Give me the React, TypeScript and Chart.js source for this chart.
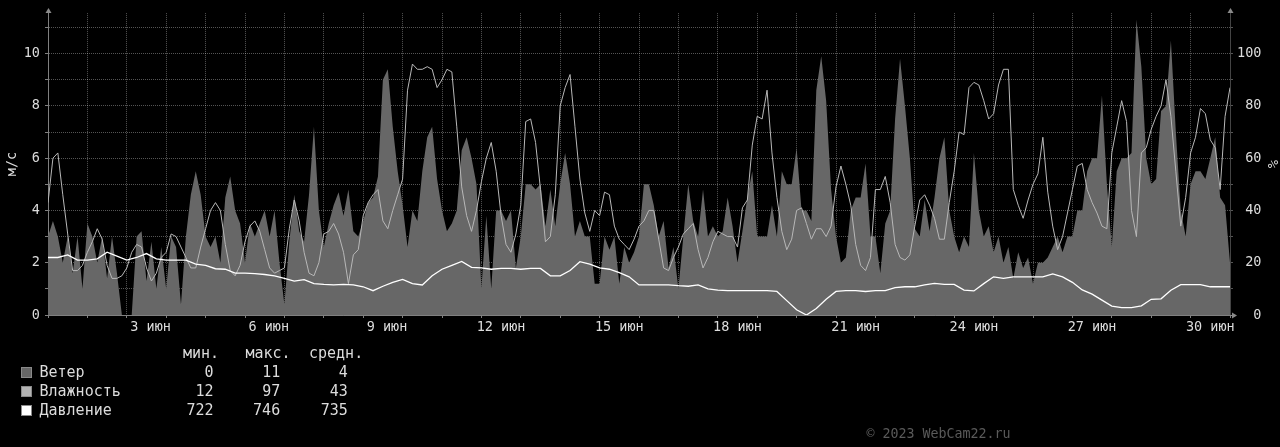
import React, { useEffect, useRef } from "react";
import { Chart, registerables } from "chart.js";

Chart.register(...registerables);

// ---------------- data ----------------
const MONTH = "июн";
const DAY_COUNT = 30;
const LABEL_DAYS = [3, 6, 9, 12, 15, 18, 21, 24, 27, 30];
const LEFT_LABELS = [0, 2, 4, 6, 8, 10];
const RIGHT_LABELS = [0, 20, 40, 60, 80, 100];

const WIND_STEP_HOURS = 3;
const HUMIDITY_STEP_HOURS = 3;
const PRESSURE_STEP_HOURS = 6;
const PRESSURE_BASE = 722; // мм рт. ст. shown as (p - base) / 10 on the left scale
const PRESSURE_DIV = 10;

// wind, m/s, every 3 hours from 1 June 00:00
const windValues = [
  3.0, 3.6, 3.0, 2.0, 3.0, 1.6, 3.0, 1.0,
  3.5, 3.0, 2.0, 3.0, 1.4, 3.0, 1.6, 0,
  0, 0, 3.0, 3.2, 1.3, 2.8, 1.0, 2.6,
  1.0, 3.0, 2.6, 0.4, 3.0, 4.6, 5.5, 4.6,
  3.0, 2.6, 3.0, 2.0, 4.5, 5.3, 4.0, 3.5,
  2.0, 3.5, 3.0, 3.5, 4.0, 3.0, 4.0, 2.0,
  0.4, 2.8, 4.6, 3.2, 2.8, 4.6, 7.2, 4.0,
  2.6, 3.5, 4.2, 4.7, 3.8, 4.8, 3.2, 3.0,
  3.6, 4.3, 4.5, 5.3, 9.0, 9.4, 7.2, 5.5,
  4.2, 2.6, 4.0, 3.6, 5.5, 6.8, 7.2, 5.2,
  4.0, 3.2, 3.5, 4.0, 6.3, 6.8, 6.0, 5.0,
  1.0, 3.8, 1.0, 4.0, 4.0, 3.6, 4.0, 1.8,
  3.0, 5.0, 5.0, 4.8, 5.0, 3.4, 4.8, 3.4,
  5.0, 6.2, 5.0, 3.0, 3.6, 3.0, 3.0, 1.2,
  1.2, 3.0, 2.5, 3.0, 1.2, 2.6, 2.0, 2.4,
  3.0, 5.0, 5.0, 4.2, 3.0, 3.6, 1.8, 2.6,
  1.0, 3.0, 5.0, 3.6, 3.0, 4.8, 3.0, 3.4,
  3.0, 3.2, 4.5, 3.4, 2.0, 3.2, 4.5, 5.5,
  3.0, 3.0, 3.0, 4.2, 3.0, 5.5, 5.0, 5.0,
  6.4, 4.0, 4.0, 3.6, 8.6, 9.9, 8.2, 4.8,
  3.0, 2.0, 2.2, 4.0, 4.5, 4.5, 5.8, 3.0,
  3.0, 1.6, 3.5, 4.0, 7.5, 9.8, 8.0, 6.0,
  3.3, 3.0, 4.4, 3.2, 4.5, 6.0, 6.8, 4.0,
  3.0, 2.4, 3.0, 2.6, 6.2, 4.0, 3.0, 3.4,
  2.4, 3.0, 2.0, 2.6, 1.4, 2.4, 1.8, 2.2,
  1.2, 2.0, 2.0, 2.2, 2.6, 3.0, 2.4, 3.0,
  3.0, 4.0, 4.0, 5.5, 6.0, 6.0, 8.4, 5.0,
  2.6, 5.5, 6.0, 6.0, 6.2, 11.3, 9.5, 6.0,
  5.0, 5.2, 7.8, 8.0, 10.5, 7.0, 4.0, 3.0,
  5.0, 5.5, 5.5, 5.2, 6.0, 6.8, 4.5, 4.2,
  2.0,
];

// humidity, %, every 3 hours
const humidityValues = [
  43, 60, 62, 46, 31, 17, 17, 19,
  24, 28, 33, 29, 19, 14, 14, 15,
  18, 24, 27, 26, 18, 13, 16, 22,
  24, 31, 30, 26, 22, 18, 18, 26,
  33, 40, 43, 40, 27, 17, 15, 19,
  28, 34, 36, 32, 25, 18, 16, 17,
  18, 33, 44, 36, 24, 16, 15, 20,
  31, 32, 35, 31, 24, 12, 23, 25,
  38, 43, 46, 48, 36, 33, 40, 46,
  52, 86, 96, 94, 94, 95, 94, 87,
  90, 94, 93, 72, 49, 38, 32, 40,
  51, 60, 66, 55, 38, 27, 24, 31,
  42, 74, 75, 66, 48, 28, 30, 46,
  80, 87, 92, 72, 52, 39, 32, 40,
  38, 47, 46, 34, 29, 27, 25, 29,
  34, 36, 40, 40, 29, 18, 17, 22,
  26, 31, 33, 35, 25, 18, 22, 28,
  32, 31, 30, 30, 26, 41, 44, 65,
  76, 75, 86, 62, 45, 32, 25, 29,
  40, 41, 35, 29, 33, 33, 30, 34,
  49, 57, 50, 42, 27, 19, 17, 22,
  48, 48, 53, 43, 27, 22, 21, 23,
  34, 44, 46, 42, 37, 29, 29, 43,
  55, 70, 69, 87, 89, 88, 82, 75,
  77, 88, 94, 94, 48, 42, 37, 44,
  50, 54, 68, 47, 34, 25, 30, 39,
  48, 57, 58, 48, 43, 39, 34, 33,
  62, 72, 82, 74, 40, 30, 62, 64,
  71, 76, 80, 90, 76, 55, 34, 45,
  62, 68, 79, 77, 67, 64, 48, 76,
  87,
];

// pressure, mmHg, every 6 hours
const pressureValues = [
  744, 744, 745, 743,
  743, 743.5, 746, 744.5,
  743, 744, 745.5, 743.5,
  743, 743, 743, 741.5,
  741, 739.7, 739.5, 738,
  738, 737.8, 737.5, 737,
  736, 735, 735.5, 734,
  733.7, 733.5, 733.7, 733.5,
  732.8, 731.3, 733, 734.5,
  735.6, 734, 733.5, 737,
  739.5, 741, 742.5, 740.2,
  740, 739.5, 739.8, 739.8,
  739.5, 739.8, 739.8, 737,
  737, 739, 742.4, 741.5,
  740, 739.5, 738.2, 736.6,
  733.5, 733.5, 733.5, 733.5,
  733.2, 733, 733.5, 732,
  731.5, 731.3, 731.3, 731.3,
  731.3, 731.3, 731, 727.5,
  724, 722, 724.5, 728,
  731, 731.3, 731.3, 731,
  731.3, 731.3, 732.5, 732.8,
  732.8, 733.5, 734.1, 733.7,
  733.7, 731.5, 731.2, 734,
  736.6, 736, 736.6, 736.6,
  736.6, 736.6, 737.7, 736.6,
  734.5, 731.6, 730, 727.7,
  725.4, 724.8, 724.8, 725.5,
  728, 728.2, 731.5, 733.6,
  733.6, 733.6, 732.8, 732.8,
  732.8,
];

const seriesNames = ["Ветер", "Влажность", "Давление"];
const seriesMin = [0, 12, 722];
const seriesMax = [11, 97, 746];
const seriesAvg = [4, 43, 735];
const legendHeaders = ["мин.", "макс.", "средн."];
const COPYRIGHT = "© 2023 WebCam22.ru";

// ---------------- styles ----------------
const MONO = '"DejaVu Sans Mono", "Liberation Mono", monospace';
const WIND_COLOR = "#676767";
const HUMIDITY_COLOR = "#b8b8b8";
const PRESSURE_COLOR = "#ffffff";
const SWATCH_COLORS = [WIND_COLOR, "#b4b4b4", "#ffffff"];
const TEXT_COLOR = "#dcdcdc";
const GRID_COLOR = "rgba(255,255,255,0.33)";
const AXIS_COLOR = "#808080";

const arrowPlugin = {
  id: "rrdArrows",
  afterDraw(chart: any) {
    const { ctx, chartArea: a } = chart;
    ctx.save();
    ctx.fillStyle = "#8a8a8a";
    const up = (x: number) => {
      ctx.beginPath();
      ctx.moveTo(x, a.top - 5);
      ctx.lineTo(x - 3, a.top);
      ctx.lineTo(x + 3, a.top);
      ctx.closePath();
      ctx.fill();
    };
    up(a.left + 0.5);
    up(a.right + 0.5);
    ctx.beginPath();
    ctx.moveTo(a.right + 7, a.bottom + 0.5);
    ctx.lineTo(a.right + 2, a.bottom - 2.5);
    ctx.lineTo(a.right + 2, a.bottom + 3.5);
    ctx.closePath();
    ctx.fill();
    ctx.fillRect(a.right, a.bottom, 2, 1);
    ctx.restore();
  },
};

export default function App() {
  const canvasRef = useRef<HTMLCanvasElement | null>(null);

  useEffect(() => {
    document.body.style.margin = "0";
    document.body.style.background = "#000";
    const canvas = canvasRef.current;
    if (!canvas) return;

    const windData = windValues.map((v, i) => ({ x: (i * WIND_STEP_HOURS) / 24, y: v }));
    const humData = humidityValues.map((v, i) => ({ x: (i * HUMIDITY_STEP_HOURS) / 24, y: v }));
    const pressData = pressureValues.map((p, i) => ({
      x: (i * PRESSURE_STEP_HOURS) / 24,
      y: (p - PRESSURE_BASE) / PRESSURE_DIV,
    }));

    const isLabelTick = (v: number) => !Number.isInteger(v);
    const axisFont = { family: MONO, size: 13.5 };

    const chart = new Chart(canvas, {
      type: "line",
      data: {
        datasets: [
          {
            label: seriesNames[2],
            data: pressData,
            yAxisID: "y",
            borderColor: PRESSURE_COLOR,
            borderWidth: 1.3,
            pointRadius: 0,
            fill: false,
            order: 0,
          },
          {
            label: seriesNames[1],
            data: humData,
            yAxisID: "y1",
            borderColor: HUMIDITY_COLOR,
            borderWidth: 1,
            pointRadius: 0,
            fill: false,
            order: 1,
          },
          {
            label: seriesNames[0],
            data: windData,
            yAxisID: "y",
            borderColor: WIND_COLOR,
            backgroundColor: WIND_COLOR,
            borderWidth: 0,
            pointRadius: 0,
            fill: "origin",
            order: 2,
          },
        ],
      },
      options: {
        animation: false,
        responsive: false,
        devicePixelRatio: 1,
        layout: { padding: { top: 13, left: 0, right: 0, bottom: 0 } },
        plugins: { legend: { display: false }, tooltip: { enabled: false } },
        elements: { line: { tension: 0 }, point: { radius: 0 } },
        scales: {
          x: {
            type: "linear",
            position: "bottom",
            min: 0,
            max: DAY_COUNT,
            z: 1,
            afterFit: (s: any) => {
              s.height = 132;
            },
            afterBuildTicks: (s: any) => {
              const t: { value: number }[] = [];
              for (let d = 0; d <= DAY_COUNT; d++) t.push({ value: d });
              LABEL_DAYS.forEach((day) => t.push({ value: day - 0.5 }));
              t.sort((a, b) => a.value - b.value);
              s.ticks = t;
            },
            grid: {
              color: (ctx: any) => (ctx.tick && isLabelTick(ctx.tick.value) ? "rgba(0,0,0,0)" : GRID_COLOR),
              tickColor: (ctx: any) => (ctx.tick && isLabelTick(ctx.tick.value) ? "rgba(0,0,0,0)" : AXIS_COLOR),
              tickLength: 3,
              lineWidth: 1,
            },
            border: { display: true, color: AXIS_COLOR, dash: [1, 1] },
            ticks: {
              autoSkip: false,
              maxRotation: 0,
              minRotation: 0,
              padding: 1,
              color: TEXT_COLOR,
              font: axisFont,
              callback: (v: any) => {
                const n = Number(v);
                if (!isLabelTick(n)) return "";
                const day = Math.floor(n) + 1;
                return (day < 10 ? " " : "") + day + " " + MONTH;
              },
            },
          },
          y: {
            type: "linear",
            position: "left",
            min: 0,
            max: 11.55,
            z: 1,
            afterFit: (s: any) => {
              s.width = 48;
            },
            afterBuildTicks: (s: any) => {
              const t: { value: number }[] = [];
              for (let v = 0; v <= 11; v++) t.push({ value: v });
              s.ticks = t;
            },
            grid: { color: GRID_COLOR, tickColor: AXIS_COLOR, tickLength: 3, lineWidth: 1 },
            border: { display: true, color: AXIS_COLOR, dash: [1, 1] },
            ticks: {
              autoSkip: false,
              padding: 5,
              color: TEXT_COLOR,
              font: axisFont,
              callback: (v: any) => (LEFT_LABELS.includes(Number(v)) ? String(v) : ""),
            },
            title: {
              display: true,
              text: "м/с",
              color: TEXT_COLOR,
              font: axisFont,
              padding: { top: 4, bottom: 0 },
            },
          },
          y1: {
            type: "linear",
            position: "right",
            min: 0,
            max: 115.5,
            z: 1,
            afterFit: (s: any) => {
              s.width = 50;
            },
            afterBuildTicks: (s: any) => {
              const t: { value: number }[] = [];
              for (let v = 0; v <= 110; v += 10) t.push({ value: v });
              s.ticks = t;
            },
            grid: { drawOnChartArea: false, tickColor: "#555", tickLength: 3 },
            border: { display: true, color: "#444" },
            ticks: {
              autoSkip: false,
              padding: 4,
              color: TEXT_COLOR,
              font: axisFont,
              callback: (v: any) => (RIGHT_LABELS.includes(Number(v)) ? String(v).padStart(3, " ") : ""),
            },
            title: {
              display: true,
              text: "%",
              color: TEXT_COLOR,
              font: axisFont,
              padding: { top: 0, bottom: 0 },
            },
          },
        },
      } as any,
      plugins: [arrowPlugin],
    });

    return () => chart.destroy();
  }, []);

  const legendFont: React.CSSProperties = {
    position: "absolute",
    fontFamily: MONO,
    fontSize: 15,
    lineHeight: "19px",
    color: TEXT_COLOR,
    whiteSpace: "pre",
  };
  const headerLefts = [183, 245.5, 309];
  const colEnds = [213.5, 280.2, 347.9];
  const rowTop = (i: number) => 362.9 + i * 19;

  return (
    <div style={{ position: "relative", width: 1280, height: 447, background: "#000", overflow: "hidden" }}>
      <canvas ref={canvasRef} width={1280} height={447} style={{ display: "block", width: 1280, height: 447 }} />
      {legendHeaders.map((h, i) => (
        <div key={"h" + i} style={{ ...legendFont, left: headerLefts[i], top: 344.2 }}>
          {h}
        </div>
      ))}
      {seriesNames.map((name, i) => {
        const vals = [seriesMin[i], seriesMax[i], seriesAvg[i]];
        return (
          <React.Fragment key={name}>
            <div
              style={{
                position: "absolute",
                left: 21,
                top: 366.5 + i * 19,
                width: 9,
                height: 9,
                background: SWATCH_COLORS[i],
                border: "1px solid #8a8a8a",
              }}
            />
            <div style={{ ...legendFont, left: 39.5, top: rowTop(i) }}>{name}</div>
            {vals.map((v, j) => (
              <div
                key={j}
                style={{ ...legendFont, left: colEnds[j] - 60, width: 60, textAlign: "right", top: rowTop(i) }}
              >
                {String(v)}
              </div>
            ))}
          </React.Fragment>
        );
      })}
      <div
        style={{
          position: "absolute",
          left: 866.5,
          top: 424,
          fontFamily: MONO,
          fontSize: 13.3,
          lineHeight: "19px",
          color: "#5a5a5a",
          whiteSpace: "pre",
        }}
      >
        {COPYRIGHT}
      </div>
    </div>
  );
}
